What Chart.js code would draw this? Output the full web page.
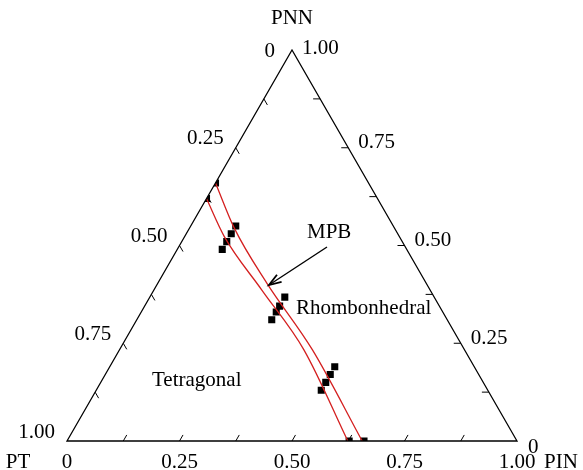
<!DOCTYPE html>
<html>
<head>
<meta charset="utf-8">
<script src="https://cdn.jsdelivr.net/npm/chart.js@4"></script>
<style>
  html, body { margin: 0; padding: 0; background: #fff; }
  #wrap { width: 583px; height: 470px; }
</style>
</head>
<body>
<div id="wrap"><canvas id="ternary"></canvas></div>
<script>
// compositions are given as (PIN fraction, PNN fraction); PT = 1 - PIN - PNN
const tickValues = [0, 0.25, 0.5, 0.75, 1];
const tickLabels = ['0', '0.25', '0.50', '0.75', '1.00'];
const minorTicks = [0.125, 0.25, 0.375, 0.5, 0.625, 0.75, 0.875];

// the two red MPB boundaries
const leftCurvePIN = [0, 0.087, 0.24, 0.41, 0.624];
const leftCurvePNN = [0.62, 0.524, 0.386, 0.233, 0];
const rightCurvePIN = [0, 0.099, 0.242, 0.429, 0.656];
const rightCurvePNN = [0.66, 0.545, 0.404, 0.233, 0];

// measured samples (black squares)
const samplePIN = [0, 0, 0.1, 0.1, 0.1, 0.1, 0.3, 0.3, 0.3, 0.3, 0.5, 0.5, 0.5, 0.5, 0.627, 0.66];
const samplePNN = [0.62, 0.66, 0.49, 0.51, 0.53, 0.55, 0.31, 0.33, 0.345, 0.368, 0.13, 0.15, 0.17, 0.19, 0, 0];

const regionNames = ['Tetragonal', 'Rhombonhedral', 'MPB'];

function toXY(pin, pnn) {
    return { x: pin + pnn / 2, y: pnn };
}

function makePoints(pins, pnns) {
    return pins.map(function (p, i) { return toXY(p, pnns[i]); });
}

const serif = '21px "Liberation Serif", "Times New Roman", serif';

// clip marks to the triangle so edge markers are cut like in the figure
const clipPlugin = {
    id: 'clipTriangle',
    beforeDatasetsDraw(chart) {
        const ctx = chart.ctx;
        const xs = chart.scales.x, ys = chart.scales.y;
        ctx.save();
        ctx.beginPath();
        ctx.moveTo(xs.getPixelForValue(0), ys.getPixelForValue(0));
        ctx.lineTo(xs.getPixelForValue(1), ys.getPixelForValue(0));
        ctx.lineTo(xs.getPixelForValue(0.5), ys.getPixelForValue(1));
        ctx.closePath();
        ctx.clip();
    },
    afterDatasetsDraw(chart) {
        chart.ctx.restore();
    }
};

const framePlugin = {
    id: 'ternaryFrame',
    afterDraw(chart) {
        const ctx = chart.ctx;
        const xs = chart.scales.x, ys = chart.scales.y;
        function px(pin, pnn) {
            const p = toXY(pin, pnn);
            return [xs.getPixelForValue(p.x), ys.getPixelForValue(p.y)];
        }
        const bl = px(0, 0), br = px(1, 0), top = px(0, 1);

        ctx.save();
        ctx.strokeStyle = '#000';
        ctx.lineWidth = 1.3;
        ctx.beginPath();
        ctx.moveTo(bl[0], bl[1]);
        ctx.lineTo(br[0], br[1]);
        ctx.lineTo(top[0], top[1]);
        ctx.closePath();
        ctx.stroke();

        // ticks
        const len = 7;
        const c60 = 0.5, s60 = Math.sqrt(3) / 2;
        ctx.lineWidth = 1;
        ctx.beginPath();
        minorTicks.forEach(function (t) {
            // bottom axis (PIN), ticks up-right
            let p = px(t, 0);
            ctx.moveTo(p[0], p[1]);
            ctx.lineTo(p[0] + len * c60, p[1] - len * s60);
            // right axis (PNN), ticks to the left
            p = px(1 - t, t);
            ctx.moveTo(p[0], p[1]);
            ctx.lineTo(p[0] - len, p[1]);
            // left axis (PT), ticks down-right
            p = px(0, 1 - t);
            ctx.moveTo(p[0], p[1]);
            ctx.lineTo(p[0] + len * c60, p[1] + len * s60);
        });
        ctx.stroke();

        ctx.fillStyle = '#000';
        ctx.font = serif;
        ctx.textBaseline = 'middle';
        tickValues.forEach(function (t, i) {
            let p = px(t, 0);
            ctx.textAlign = 'center';
            ctx.fillText(tickLabels[i], p[0], p[1] + 21);

            // left axis (PT): 0 at apex, 1.00 at bottom-left
            p = px(0, 1 - t);
            ctx.textAlign = 'right';
            if (t === 0) ctx.fillText(tickLabels[i], p[0] - 17, p[1] + 1);
            else ctx.fillText(tickLabels[i], p[0] - 12, p[1] - 9);

            // right axis (PNN): 0 at bottom-right, 1.00 at apex
            p = px(1 - t, t);
            ctx.textAlign = 'left';
            if (t === 0) ctx.fillText(tickLabels[i], p[0] + 11, p[1] + 6);
            else if (t === 1) ctx.fillText(tickLabels[i], p[0] + 10, p[1] - 2);
            else ctx.fillText(tickLabels[i], p[0] + 10, p[1] - 5);
        });

        // axis titles
        ctx.textAlign = 'center';
        ctx.fillText('PNN', top[0], 18);
        ctx.fillText('PT', 18, bl[1] + 21);
        ctx.fillText('PIN', 561, br[1] + 21);

        // region labels
        ctx.textAlign = 'left';
        ctx.fillText(regionNames[0], 152, 380);
        ctx.fillText(regionNames[1], 296, 308);
        ctx.fillText(regionNames[2], 307, 232);

        // arrow from MPB label to the boundary
        const tip = [269, 285], tail = [327, 247];
        const ang = Math.atan2(tip[1] - tail[1], tip[0] - tail[0]);
        ctx.lineWidth = 1.4;
        ctx.beginPath();
        ctx.moveTo(tail[0], tail[1]);
        ctx.lineTo(tip[0], tip[1]);
        ctx.stroke();
        ctx.beginPath();
        ctx.moveTo(tip[0] - 13 * Math.cos(ang - 0.33), tip[1] - 13 * Math.sin(ang - 0.33));
        ctx.lineTo(tip[0], tip[1]);
        ctx.lineTo(tip[0] - 13 * Math.cos(ang + 0.33), tip[1] - 13 * Math.sin(ang + 0.33));
        ctx.lineWidth = 1.8;
        ctx.stroke();
        ctx.restore();
    }
};

const ctx = document.getElementById('ternary').getContext('2d');
const chart = new Chart(ctx, {
    type: 'scatter',
    data: {
        datasets: [
            {
                type: 'line',
                data: makePoints(leftCurvePIN, leftCurvePNN),
                borderColor: '#d42020',
                borderWidth: 1.3,
                pointRadius: 0,
                cubicInterpolationMode: 'monotone',
                fill: false
            },
            {
                type: 'line',
                data: makePoints(rightCurvePIN, rightCurvePNN),
                borderColor: '#d42020',
                borderWidth: 1.3,
                pointRadius: 0,
                cubicInterpolationMode: 'monotone',
                fill: false
            },
            {
                data: makePoints(samplePIN, samplePNN),
                pointStyle: 'rect',
                pointRadius: 5,
                backgroundColor: '#000',
                borderColor: '#000',
                borderWidth: 0
            }
        ]
    },
    options: {
        responsive: true,
        maintainAspectRatio: false,
        animation: false,
        layout: { padding: { left: 67, right: 66, top: 50, bottom: 29 } },
        plugins: { legend: { display: false }, tooltip: { enabled: false } },
        scales: {
            x: { type: 'linear', min: 0, max: 1, display: false },
            y: { type: 'linear', min: 0, max: 1, display: false }
        }
    },
    plugins: [clipPlugin, framePlugin]
});
</script>
</body>
</html>
